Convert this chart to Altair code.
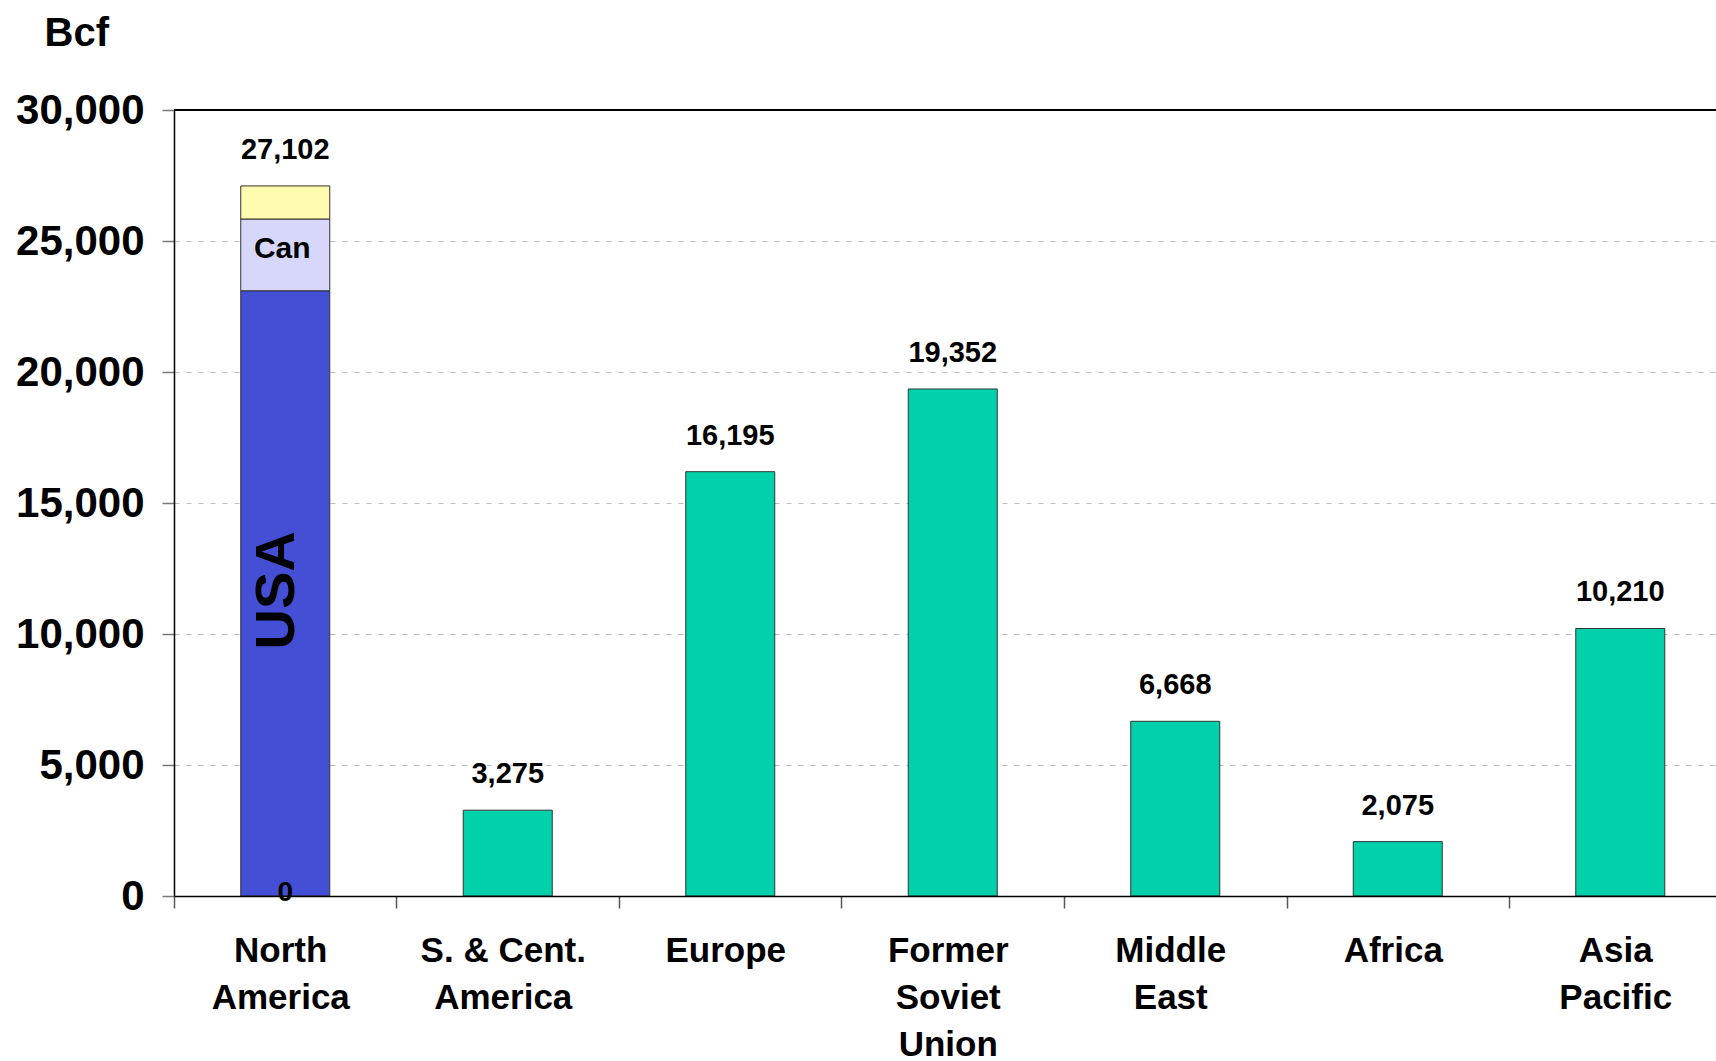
import json
import altair as alt
import pandas as pd

# ---------------- data ----------------
region_lines = [["North", "America"], ["S. & Cent.", "America"], ["Europe"],
                ["Former", "Soviet", "Union"], ["Middle", "East"], ["Africa"],
                ["Asia", "Pacific"]]
region_names = ["North America", "S. & Cent. America", "Europe",
                "Former Soviet Union", "Middle East", "Africa", "Asia Pacific"]
totals = [27102, 3275, 16195, 19352, 6668, 2075, 10210]

na_segments = ["USA", "Canada", "Mexico"]
na_values = [23100, 2740, 1262]
na_segment_labels = ["USA", "Can", ""]
na_base_label = "0"

y_ticks = [0, 5000, 10000, 15000, 20000, 25000, 30000]

seg_domain = ["USA", "Canada", "Mexico", "Region"]
seg_colors = ["#444FD6", "#D6D7FA", "#FFFCB0", "#00D1AA"]

# ---------------- tables ----------------
rows = []
for i, name in enumerate(region_names):
    if i == 0:
        start = 0
        for seg, val, lab in zip(na_segments, na_values, na_segment_labels):
            rows.append(dict(idx=i, region=name, segment=seg, start=start,
                             end=start + val, mid=start + val / 2, label=lab))
            start += val
    else:
        rows.append(dict(idx=i, region=name, segment="Region", start=0,
                         end=totals[i], mid=totals[i] / 2, label=""))
bars_df = pd.DataFrame(rows)
tot_df = pd.DataFrame(dict(idx=list(range(len(region_names))), total=totals,
                           region=region_names))
seg_lab_df = bars_df[bars_df["label"] != ""].copy()
base_df = pd.DataFrame(dict(idx=[0], val=[0], label=[na_base_label]))

# ---------------- layout ----------------
W, H = 1542, 786
STEP = 222.5
x_max = -0.5 + W / STEP
FONT = "Liberation Sans"

label_expr = json.dumps(region_lines) + "[round(datum.value + 0.5)]"

x_scale = alt.Scale(domain=[-0.5, x_max], nice=False, zero=False, padding=0)
y_scale = alt.Scale(domain=[0, 30000], nice=False, zero=True, padding=0)

x_axis = alt.Axis(values=[i - 0.5 for i in range(len(region_names))],
                  labelExpr=label_expr, labelOffset=STEP / 2 - 5,
                  labelFlush=False, labelOverlap=False, labelBound=False,
                  tickSize=12, tickColor="#555555", tickWidth=1.5,
                  domainColor="black", domainWidth=1.5,
                  labelFont=FONT, labelFontSize=35, labelFontWeight="bold",
                  labelColor="black", labelLineHeight=47, labelPadding=25,
                  labelAlign="center", labelBaseline="top",
                  grid=False, title=None, zindex=1)
y_axis = alt.Axis(values=y_ticks, labelExpr="format(datum.value, ',')",
                  grid=True,
                  gridDash=[5, 7], gridColor="#BBBBBB", gridWidth=1,
                  tickSize=12, tickColor="#777777", tickWidth=1.5,
                  domainColor="black", domainWidth=1.5,
                  labelFont=FONT, labelFontSize=42, labelFontWeight="bold",
                  labelColor="black", labelPadding=18,
                  labelFlush=False, labelOverlap=False,
                  title="Bcf", titleAngle=0, titleX=-130, titleY=-77,
                  titleAlign="left", titleBaseline="middle",
                  titleFont=FONT, titleFontSize=40, titleFontWeight="bold",
                  titleColor="black")

def X():
    return alt.X("idx:Q", scale=x_scale, axis=x_axis)

def Y(field):
    return alt.Y(field, type="quantitative", scale=y_scale, axis=y_axis)

bars = alt.Chart(bars_df).mark_bar(size=89, stroke="#333333", strokeWidth=1).encode(
    x=X(),
    y=Y("end"),
    y2="start:Q",
    color=alt.Color("segment:N", scale=alt.Scale(domain=seg_domain, range=seg_colors),
                    legend=None),
)

top_rule = alt.Chart(tot_df).mark_rule(color="black", strokeWidth=1.5).encode(
    x=alt.datum(-0.5), x2=alt.datum(x_max), y=alt.datum(30000)
)

tot_text = alt.Chart(tot_df).mark_text(
    dy=-36, baseline="middle", align="center", font=FONT, fontSize=29,
    fontWeight="bold", color="black"
).encode(x=X(), y=Y("total"), text=alt.Text("total:Q", format=","))

usa_text = alt.Chart(seg_lab_df[seg_lab_df["segment"] == "USA"]).mark_text(
    angle=270, dx=3, dy=-8, baseline="middle", align="center", font=FONT,
    fontSize=56, fontWeight="bold", color="black"
).encode(x=X(), y=Y("mid"), text="label:N")

can_text = alt.Chart(seg_lab_df[seg_lab_df["segment"] != "USA"]).mark_text(
    dy=-6, dx=-3, baseline="middle", align="center", font=FONT, fontSize=30,
    fontWeight="bold", color="black"
).encode(x=X(), y=Y("mid"), text="label:N")

base_text = alt.Chart(base_df).mark_text(
    dy=-3, baseline="middle", align="center", font=FONT, fontSize=28,
    fontWeight="bold", color="black"
).encode(x=X(), y=Y("val"), text="label:N")

chart = alt.layer(bars, top_rule, tot_text, usa_text, can_text, base_text).properties(
    width=W, height=H,
    padding={"left": 174, "top": 110, "right": 0, "bottom": 165},
    autosize=alt.AutoSizeParams(type="none"),
    background="white",
).configure_view(stroke=None)

chart.save("out.html", embed_options={"renderer": "svg", "actions": False})
